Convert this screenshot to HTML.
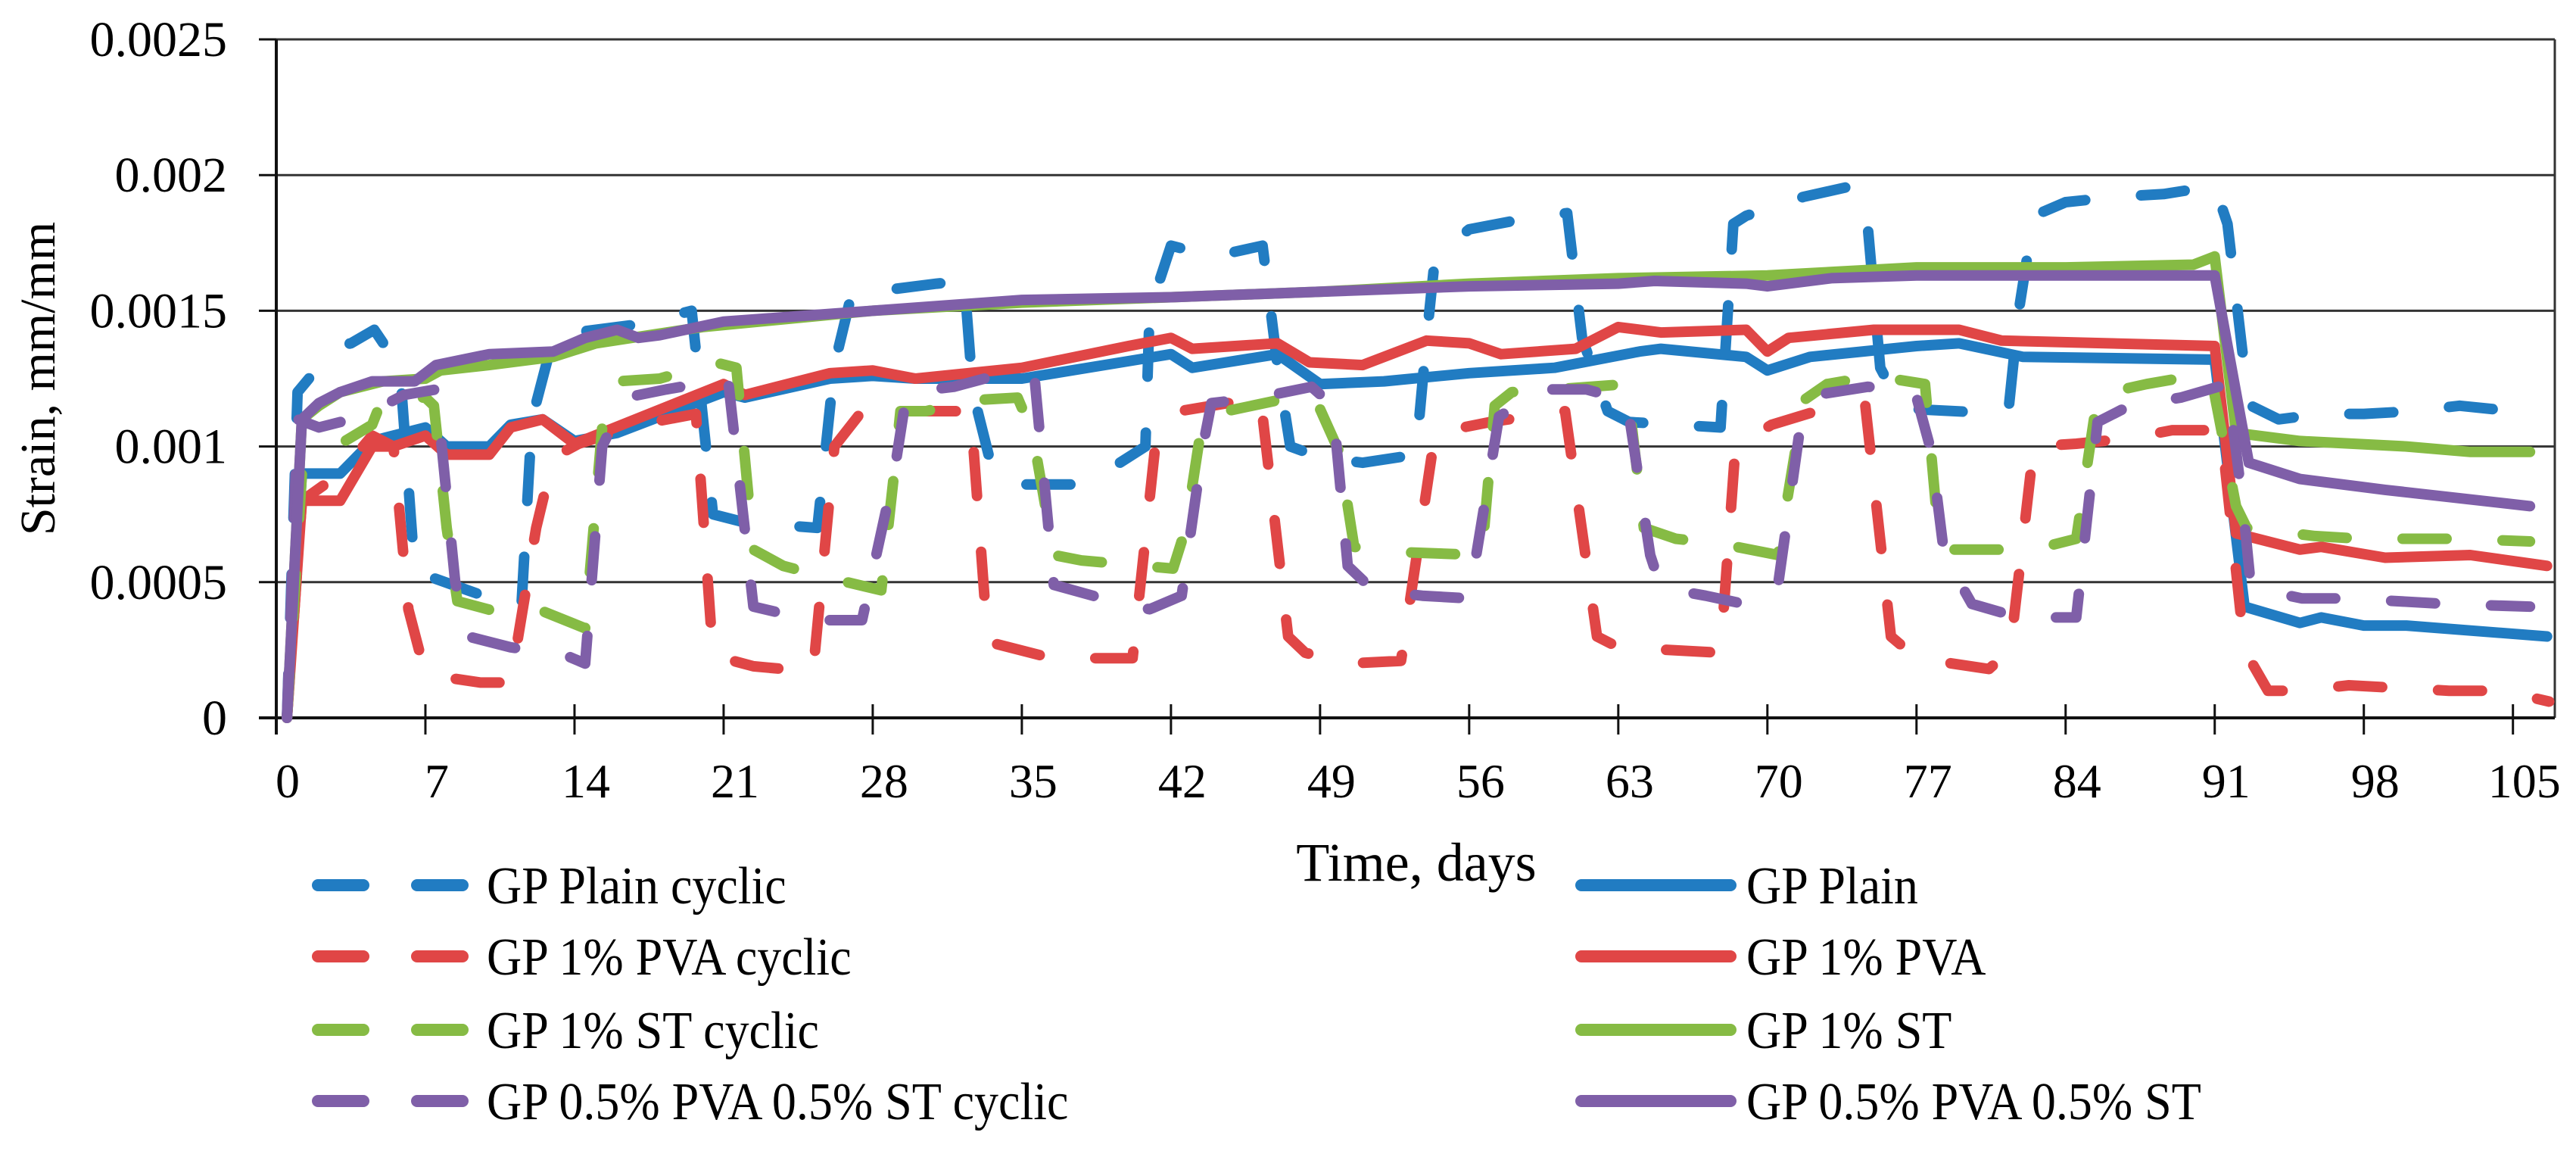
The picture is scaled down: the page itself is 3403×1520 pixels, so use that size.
<!DOCTYPE html>
<html><head><meta charset="utf-8"><style>
html,body{margin:0;padding:0;background:#fff;}
svg{display:block;font-family:"Liberation Serif","Times New Roman",serif;}
</style></head><body>
<svg id="chart" width="3403" height="1520" viewBox="0 0 3403 1520" xmlns="http://www.w3.org/2000/svg">
<rect x="0" y="0" width="3403" height="1520" fill="#fff"/>
<g id="grid"></g><g id="axes"></g><g id="series"></g><g id="legend"></g>
<text x="0" y="0" transform="translate(72,500) rotate(-90)" text-anchor="middle" font-size="66" fill="#000">Strain, mm/mm</text>
<text x="1871" y="1163" text-anchor="middle" font-size="72" fill="#000">Time, days</text>
</svg>
<script>
const yTicks = [0, 0.0005, 0.001, 0.0015, 0.002, 0.0025];
const yTickLabels = ["0", "0.0005", "0.001", "0.0015", "0.002", "0.0025"];
const xTicks = [0, 7, 14, 21, 28, 35, 42, 49, 56, 63, 70, 77, 84, 91, 98, 105];
const seriesNames = ["GP Plain cyclic","GP Plain","GP 1% PVA cyclic","GP 1% PVA","GP 1% ST cyclic","GP 1% ST","GP 0.5% PVA 0.5% ST cyclic","GP 0.5% PVA 0.5% ST"];
const plainCyclic = [[0.5,0],[1,0.0012],[2.8,0.00137],[3.5,0.00138],[4.6,0.00143],[5.8,0.00129],[6.5,0.00054],[9,0.00047],[11.5,0.0004],[12,0.0011],[13,0.0014],[14,0.00142],[17,0.00145],[19.5,0.0015],[20.5,0.00075],[22,0.00072],[25.4,0.0007],[26.2,0.0013],[27,0.00156],[29,0.00158],[31,0.0016],[32.3,0.00161],[32.7,0.0012],[33.5,0.00095],[34.2,0.00086],[38,0.00086],[40.8,0.001],[41,0.0015],[42,0.00174],[44,0.0017],[46.3,0.00174],[47,0.0013],[47.6,0.001],[49,0.00096],[51,0.00094],[53.5,0.00097],[54,0.0014],[54.4,0.0017],[56,0.0018],[58,0.00183],[60.6,0.00186],[61.3,0.0014],[62.5,0.00113],[63.5,0.00109],[67.8,0.00107],[68.4,0.00182],[69,0.00185],[71.7,0.00192],[74,0.00196],[74.7,0.00182],[75.3,0.00129],[76.3,0.00114],[81.3,0.00112],[81.8,0.0015],[82.5,0.00185],[84,0.0019],[86.4,0.00192],[88.6,0.00193],[91,0.00196],[91.6,0.00182],[92.3,0.00135],[92.7,0.00115],[94,0.0011],[96,0.00112],[98,0.00112],[100.3,0.00113],[102.5,0.00115],[105,0.00113],[106.6,0.00111]];
const plain = [[0.5,0],[1.2,0.0009],[3,0.0009],[4.5,0.00102],[6,0.00105],[7,0.00107],[8,0.001],[10,0.001],[11,0.00108],[12.5,0.0011],[14,0.00102],[16,0.00105],[21,0.0012],[22,0.00118],[26,0.00125],[28,0.00126],[30,0.00125],[35,0.00125],[42,0.00134],[43,0.00129],[47,0.00134],[49,0.00123],[52,0.00124],[56,0.00127],[60,0.00129],[64,0.00135],[65,0.00136],[69,0.00133],[70,0.00128],[72,0.00133],[77,0.00137],[79,0.00138],[82,0.00133],[91,0.00132],[92.4,0.00041],[95,0.00035],[96,0.00037],[98,0.00034],[100,0.00034],[106.6,0.0003]];
const pvaCyclic = [[0.5,0],[1.2,0.0008],[3,0.0009],[4.5,0.00104],[5.5,0.001],[6.2,0.0004],[7,0.00016],[9.6,0.00013],[11,0.00013],[12.2,0.0007],[13,0.00096],[14.2,0.00101],[17,0.00108],[19.7,0.00112],[20.5,0.00023],[22.4,0.00019],[25.2,0.00017],[26.2,0.001],[27.5,0.00113],[30.5,0.00113],[32.6,0.00113],[33.4,0.00028],[36.4,0.00022],[40.2,0.00022],[41.3,0.00103],[42.4,0.00113],[46.2,0.00118],[47.5,0.0003],[48.3,0.00024],[50.3,0.0002],[52.8,0.00021],[54.4,0.00105],[57,0.00109],[60.5,0.00113],[62,0.0003],[63,0.00026],[67.8,0.00024],[68.5,0.001],[70.2,0.00108],[72.3,0.00113],[74.6,0.00115],[75.8,0.0003],[77,0.00022],[80.4,0.00018],[81.4,0.00025],[82.5,0.001],[84.5,0.00101],[87,0.00103],[89,0.00106],[91.3,0.00106],[92.4,0.00025],[93.5,0.0001],[95,0.0001],[97.3,0.00012],[102,0.0001],[104.5,0.0001],[106.7,0.00006]];
const pva = [[0.5,0],[1.2,0.0008],[3,0.0008],[4.5,0.001],[5.5,0.001],[7,0.00104],[8,0.00097],[10,0.00097],[11,0.00107],[12.5,0.0011],[14,0.00101],[21,0.00123],[22,0.00119],[26,0.00127],[28,0.00128],[30,0.00125],[35,0.00129],[40,0.00137],[42,0.0014],[43,0.00136],[47,0.00138],[48.5,0.00131],[51,0.0013],[54,0.00139],[56,0.00138],[57.5,0.00134],[61,0.00136],[63,0.00144],[65,0.00142],[69,0.00143],[70,0.00135],[71,0.0014],[75,0.00143],[79,0.00143],[81,0.00139],[91,0.00137],[92,0.00068],[95,0.00062],[96,0.00063],[99,0.00059],[103,0.0006],[106.6,0.00056]];
const stCyclic = [[0.5,0],[1.2,0.0009],[2.8,0.001],[4.5,0.00108],[5,0.00118],[7,0.00118],[7.4,0.00115],[8,0.0007],[8.5,0.00043],[10.4,0.00039],[12.6,0.00039],[14.5,0.00033],[15.3,0.00107],[16,0.00124],[18,0.00125],[20.6,0.00131],[21.6,0.00129],[22.4,0.00062],[23.8,0.00056],[25.7,0.00052],[28.4,0.00047],[29,0.0009],[29.3,0.00113],[30.5,0.00113],[32.6,0.00117],[34.8,0.00118],[35.5,0.00105],[36.5,0.0006],[37.8,0.00058],[42.1,0.00055],[42.7,0.0007],[43.5,0.00111],[44.6,0.00113],[47.6,0.00118],[48.7,0.00119],[49.9,0.00098],[50.6,0.00063],[53,0.00061],[56.6,0.0006],[57.2,0.00115],[58,0.0012],[60,0.00121],[63.4,0.00123],[64.2,0.0007],[65.7,0.00066],[67.9,0.00064],[70.5,0.0006],[71.7,0.00117],[72.8,0.00123],[75,0.00126],[77.4,0.00123],[78,0.0007],[78.5,0.00062],[82.5,0.00062],[84.5,0.00066],[85.5,0.00119],[87.8,0.00123],[90,0.00126],[90.8,0.00127],[92,0.00078],[92.5,0.0007],[95.7,0.00067],[97.9,0.00066],[102.5,0.00066],[105.8,0.00065]];
const st = [[0.5,0],[1.2,0.0011],[2,0.00115],[3,0.0012],[5,0.00124],[7,0.00125],[7.7,0.00128],[10,0.0013],[13,0.00133],[15,0.00138],[20,0.00144],[28,0.0015],[35,0.00153],[42,0.00155],[49,0.00157],[56,0.0016],[63,0.00162],[70,0.00163],[77,0.00166],[84,0.00166],[90,0.00167],[91,0.0017],[92,0.00105],[95,0.00102],[100,0.001],[103,0.00098],[105.8,0.00098]];
const hybridCyclic = [[0.5,0],[1,0.0011],[2,0.00107],[4,0.00111],[6,0.00119],[7.5,0.00121],[8.4,0.0005],[9,0.0003],[11,0.00026],[13.6,0.00023],[14.5,0.0002],[15.3,0.001],[16.4,0.00118],[18.3,0.00121],[21.2,0.00125],[22.4,0.00041],[25.1,0.00036],[27.5,0.00036],[29,0.0009],[29.6,0.0012],[31.8,0.00122],[34.2,0.00127],[35.6,0.00125],[36.5,0.00049],[38.8,0.00044],[41,0.0004],[42.5,0.00045],[43.5,0.001],[43.9,0.00116],[46.1,0.00118],[48.6,0.00122],[49.6,0.00115],[50.3,0.00056],[51.5,0.00047],[53.8,0.00045],[56,0.00044],[57.4,0.00111],[59.4,0.00121],[61.5,0.00121],[63.4,0.00117],[64.5,0.0006],[65,0.00048],[67.1,0.00045],[69.5,0.00041],[70.5,0.00049],[71.5,0.00105],[72.3,0.00119],[74.7,0.00122],[76.9,0.00121],[77.7,0.00098],[78.3,0.0006],[79.6,0.00042],[81.8,0.00037],[84.5,0.00037],[85.5,0.00109],[87,0.00115],[89.4,0.00118],[91.6,0.00123],[92.3,0.0008],[92.7,0.00048],[95.1,0.00044],[97.3,0.00044],[101.8,0.00042],[105.8,0.00041]];
const hybrid = [[0.5,0],[1.2,0.0011],[2,0.00116],[3,0.0012],[4.5,0.00124],[6.5,0.00124],[7.5,0.0013],[10,0.00134],[13,0.00135],[14.5,0.0014],[16,0.00143],[17,0.0014],[18,0.00141],[21,0.00146],[28,0.0015],[35,0.00154],[42,0.00155],[49,0.00157],[56,0.00159],[63,0.0016],[64.7,0.00161],[69,0.0016],[70,0.00159],[73,0.00162],[77,0.00163],[79,0.00163],[91,0.00163],[92.6,0.00094],[95,0.00088],[99,0.00084],[105.8,0.00078]];

const NS = "http://www.w3.org/2000/svg";
const X0 = 365, XR = 3375, PX_PER_DAY = 28.14;
const Y0 = 948, YTOP = 52, YMAX = 0.0025;
function xs(d){ return X0 + d * PX_PER_DAY; }
function ys(v){ return Y0 - (v / YMAX) * (Y0 - YTOP); }
function mk(tag, attrs, parent){ const e = document.createElementNS(NS, tag); for (const k in attrs) e.setAttribute(k, attrs[k]); parent.appendChild(e); return e; }

const grid = document.getElementById('grid');
const axes = document.getElementById('axes');
yTicks.forEach((t, i) => {
  const y = ys(t);
  if (t > 0) {
    const g = mk('line', {x1: X0, x2: XR, y1: y, y2: y, stroke: '#333', 'stroke-width': 3}, grid);
    
    
  }
  const tk = mk('line', {x1: 342, x2: X0, y1: y, y2: y, stroke: '#111', 'stroke-width': 3}, axes);
  
  
  const lb = mk('text', {x: 300, y: y + 22, 'text-anchor': 'end', 'font-size': 66, fill: '#000'}, axes);
  lb.textContent = yTickLabels[i];
  
  
});
const rb = mk('line', {x1: XR, x2: XR, y1: YTOP, y2: Y0, stroke: '#333', 'stroke-width': 3}, grid);


const ya = mk('line', {x1: X0, x2: X0, y1: YTOP, y2: Y0 + 22, stroke: '#111', 'stroke-width': 4}, axes);


const xa = mk('line', {x1: 342, x2: XR, y1: Y0, y2: Y0, stroke: '#111', 'stroke-width': 4}, axes);


xTicks.forEach(t => {
  const x = xs(t);
  const tk = mk('line', {x1: x, x2: x, y1: Y0 - 18, y2: Y0 + 22, stroke: '#111', 'stroke-width': 3}, axes);
  
  
  const lb = mk('text', {x: x + 15, y: 1053, 'text-anchor': 'middle', 'font-size': 64, fill: '#000'}, axes);
  lb.textContent = String(t);
  
  
});

const allSeries = [plainCyclic, plain, pvaCyclic, pva, stCyclic, st, hybridCyclic, hybrid];
const colors = ['#217CC2','#217CC2','#E04646','#E04646','#86BB44','#86BB44','#7F5FA8','#7F5FA8'];
const dashed = [true,false,true,false,true,false,true,false];
const sg = document.getElementById('series');
allSeries.forEach((s, i) => {
  const d = s.map((p, j) => (j ? 'L' : 'M') + xs(p[0]).toFixed(1) + ' ' + ys(p[1]).toFixed(1)).join(' ');
  const attrs = {d: d, fill: 'none', stroke: colors[i], 'stroke-width': 14, 'stroke-linecap': 'round', 'stroke-linejoin': 'round'};
  if (dashed[i]) attrs['stroke-dasharray'] = '58 74';
  const p = mk('path', attrs, sg);
  
  
});

const lg = document.getElementById('legend');
const rowY = [1169, 1263, 1360, 1454];
function legendText(parent, x, y, str){
  const t = mk('text', {x: x, y: y + 24, 'font-size': 70, fill: '#000'}, parent);
  t.textContent = str;
  const w = t.getComputedTextLength();
  if (w > 0) { t.setAttribute('textLength', (w * 0.914).toFixed(1)); t.setAttribute('lengthAdjust', 'spacingAndGlyphs'); }
  return t;
}
for (let r = 0; r < 4; r++) {
  const y = rowY[r];
  const c = colors[r * 2];
  const e1 = mk('g', {}, lg);
  
  
  mk('line', {x1: 420, x2: 480, y1: y, y2: y, stroke: c, 'stroke-width': 16, 'stroke-linecap': 'round'}, e1);
  mk('line', {x1: 551, x2: 611, y1: y, y2: y, stroke: c, 'stroke-width': 16, 'stroke-linecap': 'round'}, e1);
  legendText(e1, 643, y, seriesNames[r * 2]);
  const e2 = mk('g', {}, lg);
  
  
  mk('line', {x1: 2089, x2: 2286, y1: y, y2: y, stroke: c, 'stroke-width': 16, 'stroke-linecap': 'round'}, e2);
  legendText(e2, 2307, y, seriesNames[r * 2 + 1]);
}
</script>
</body></html>
